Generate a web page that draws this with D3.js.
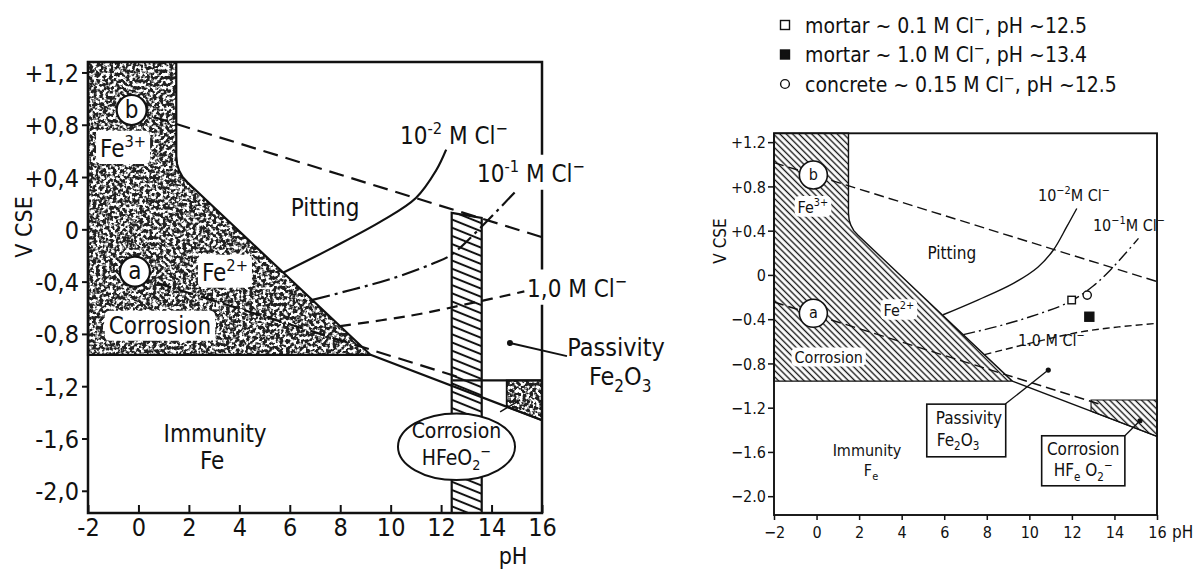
<!DOCTYPE html>
<html>
<head>
<meta charset="utf-8">
<script src="https://cdn.jsdelivr.net/npm/d3@7"></script>
<style>
  body { margin: 0; background: #fff; }
  svg { display: block; }
  text { font-family: "DejaVu Sans Condensed", "Liberation Sans Narrow", "DejaVu Sans", sans-serif; fill: #111; }
</style>
</head>
<body>
<svg id="chart" width="1194" height="571"></svg>
<script>
// ---- data ----
var phTicks = [-2, 0, 2, 4, 6, 8, 10, 12, 14, 16];
var phLabelsLeft = ["-2", "0", "2", "4", "6", "8", "10", "12", "14", "16"];
var phLabelsRight = ["\u22122", "0", "2", "4", "6", "8", "10", "12", "14", "16"];
var vTicks = [1.2, 0.8, 0.4, 0, -0.4, -0.8, -1.2, -1.6, -2.0];
var vLabelsLeft = ["+1,2", "+0,8", "+0,4", "0", "-0,4", "-0,8", "-1,2", "-1,6", "-2,0"];
var vLabelsRight = ["+1.2", "+0.8", "+0.4", "0", "\u22120.4", "\u22120.8", "\u22121.2", "\u22121.6", "\u22122.0"];

// Fe2+/Fe3+ corrosion field (pH, V)
var corrosionField = [[-2, 1.28], [1.5, 1.28], [1.5, 0.56], [1.53, 0.50], [1.61, 0.45], [1.75, 0.40], [1.94, 0.36], [9.2, -0.96], [-2, -0.96]];
// Fe / oxide boundary
var ironLine = [[9.2, -0.96], [16, -1.46]];
// water lines a and b
var lineA = [[-2, -0.245], [16, -1.33]];
var lineB = [[-2, 1.015], [16, -0.06]];
// HFeO2- corrosion fields
var hfeo2Left = [[14.6, -1.156], [16, -1.156], [16, -1.46], [14.6, -1.357]];
var hfeo2TopLeft = [[12.45, -1.156], [16, -1.156]];
var hfeo2Right = [[12.9, -1.13], [16, -1.13], [16, -1.46], [12.9, -1.232]];
// concrete pH band (left figure)
var concreteBand = [[12.42, 0.126], [13.61, 0.087], [13.61, -2.17], [12.42, -2.17]];

// pitting potential curves, left figure
var cl2Left = [[5.75, -0.33], [7.7, -0.14], [9.7, 0.07], [11.0, 0.24], [11.8, 0.45], [12.2, 0.61]];
var cl1Left = [[6.9, -0.54], [8.5, -0.46], [10.0, -0.38], [11.7, -0.26], [12.4, -0.195], [13.5, 0.0], [15.0, 0.30]];
var cl0Left = [[8.0, -0.74], [10.8, -0.66], [13.15, -0.567], [15.3, -0.475]];
// pitting potential curves, right figure
var cl2Right = [[5.95, -0.36], [7.6, -0.225], [9.25, -0.076], [10.4, 0.07], [11.13, 0.225], [11.76, 0.436], [12.23, 0.60]];
var cl1Right = [[6.9, -0.54], [8.5, -0.465], [10.04, -0.378], [11.9, -0.243], [13.0, -0.1], [13.8, 0.043], [15.13, 0.33]];
var cl0Right = [[7.9, -0.72], [10.2, -0.61], [12.39, -0.516], [14.2, -0.47], [16, -0.438]];

// measured specimens
var samplePH = [11.99, 12.72, 12.82];
var sampleV = [-0.227, -0.182, -0.378];
var sampleMarker = ["openSquare", "openCircle", "filledSquare"];
var legendMarker = ["openSquare", "filledSquare", "openCircle"];
var legendText = [
  [["mortar ~ 0.1 M  Cl"], ["\u2212", "sup"], [", pH ~12.5"]],
  [["mortar ~ 1.0 M  Cl"], ["\u2212", "sup"], [", pH ~13.4"]],
  [["concrete ~ 0.15 M Cl"], ["\u2212", "sup"], [", pH ~12.5"]]
];

var svg = d3.select("#chart");
var defs = svg.append("defs");

// stipple texture for the left figure
var f = defs.append("filter").attr("id", "stipple")
    .attr("x", 0).attr("y", 0).attr("width", 1).attr("height", 1)
    .attr("color-interpolation-filters", "sRGB");
f.append("feTurbulence").attr("type", "fractalNoise").attr("baseFrequency", 0.3)
    .attr("numOctaves", 2).attr("seed", 5).attr("result", "noise");
f.append("feColorMatrix").attr("in", "noise").attr("type", "matrix")
    .attr("values", "0 0 0 0 0.13  0 0 0 0 0.13  0 0 0 0 0.13  -6 0 0 0 3.6")
    .attr("result", "ink");
f.append("feComposite").attr("in", "ink").attr("in2", "SourceGraphic").attr("operator", "in");

// hatching for the right figure and the concrete band
function hatch(id, gap, angle, w) {
  var p = defs.append("pattern").attr("id", id)
      .attr("patternUnits", "userSpaceOnUse")
      .attr("width", 20).attr("height", gap)
      .attr("patternTransform", "rotate(" + angle + ")");
  p.append("line").attr("x1", 0).attr("x2", 20).attr("y1", gap / 2).attr("y2", gap / 2)
      .attr("stroke", "#111").attr("stroke-width", w);
}
hatch("hatchR", 4.5, 45, 1.35);
hatch("hatchBand", 7.6, 22, 2);

function along(line, ph) {
  var t = (ph - line[0][0]) / (line[1][0] - line[0][0]);
  return [ph, line[0][1] + t * (line[1][1] - line[0][1])];
}

function richText(g, x, y, parts, size, anchor) {
  var t = g.append("text").attr("x", x).attr("y", y + 0.36 * size)
      .attr("font-size", size).attr("text-anchor", anchor || "start");
  var shift = 0;
  parts.forEach(function(pt) {
    var target = pt[1] === "sup" ? -0.42 * size : pt[1] === "sub" ? 0.26 * size : 0;
    var s = t.append("tspan").text(pt[0]).attr("dy", target - shift);
    if (pt[1]) s.attr("font-size", size * 0.68);
    shift = target;
  });
  return t;
}

function whiteBehind(g, t, padX, padY) {
  var b = t.node().getBBox();
  g.insert("rect", function() { return t.node(); })
      .attr("x", b.x - padX).attr("y", b.y - padY)
      .attr("width", b.width + 2 * padX).attr("height", b.height + 2 * padY)
      .attr("rx", 5).attr("fill", "#fff");
}

function marker(g, type, cx, cy, s) {
  if (type === "openCircle") {
    g.append("circle").attr("cx", cx).attr("cy", cy).attr("r", s * 0.55)
        .attr("fill", "#fff").attr("stroke", "#111").attr("stroke-width", 1.4);
  } else {
    g.append("rect").attr("x", cx - s / 2).attr("y", cy - s / 2).attr("width", s).attr("height", s)
        .attr("fill", type === "filledSquare" ? "#111" : "#fff")
        .attr("stroke", "#111").attr("stroke-width", 1.4);
  }
}

function drawPanel(cfg) {
  var g = svg.append("g");
  var x = d3.scaleLinear().domain([-2, 16]).range([cfg.left, cfg.right]);
  var y = d3.scaleLinear().domain([-2.17, 1.28]).range([cfg.bottom, cfg.top]);
  var line = d3.line().x(function(d) { return x(d[0]); }).y(function(d) { return y(d[1]); });
  var curve = d3.line().x(function(d) { return x(d[0]); }).y(function(d) { return y(d[1]); })
      .curve(d3.curveCatmullRom);
  var sw = cfg.sw;

  // corrosion field
  if (cfg.stipple) {
    g.append("path").attr("d", line(corrosionField) + "Z").attr("fill", "#fff").attr("filter", "url(#stipple)");
    g.append("path").attr("d", line(cfg.hfeo2) + "Z").attr("fill", "#fff").attr("filter", "url(#stipple)");
  } else {
    g.append("path").attr("d", line(corrosionField) + "Z").attr("fill", "url(#hatchR)");
    g.append("path").attr("d", line(cfg.hfeo2) + "Z").attr("fill", "url(#hatchR)");
  }
  g.append("path").attr("d", line(corrosionField) + "Z").attr("fill", "none")
      .attr("stroke", "#111").attr("stroke-width", sw);
  g.append("path").attr("d", line(cfg.hfeo2) + "Z").attr("fill", "none")
      .attr("stroke", "#111").attr("stroke-width", sw * 0.8);

  if (cfg.band) {
    g.append("path").attr("d", line(concreteBand) + "Z").attr("fill", "url(#hatchBand)")
        .attr("stroke", "#111").attr("stroke-width", sw);
    g.append("path").attr("d", line(hfeo2TopLeft)).attr("stroke", "#111").attr("stroke-width", sw).attr("fill", "none");
  }

  // water lines
  g.append("path").attr("d", line([along(lineA, cfg.aFrom), along(lineA, cfg.aTo)]))
      .attr("fill", "none").attr("stroke", "#111").attr("stroke-width", sw).attr("stroke-dasharray", cfg.dashAB);
  g.append("path").attr("d", line([along(lineB, cfg.bFrom), along(lineB, 16)]))
      .attr("fill", "none").attr("stroke", "#111").attr("stroke-width", sw).attr("stroke-dasharray", cfg.dashAB);

  // Fe / oxide line
  g.append("path").attr("d", line(ironLine)).attr("fill", "none").attr("stroke", "#111").attr("stroke-width", sw);

  // chloride curves
  g.append("path").attr("d", curve(cfg.cl2)).attr("fill", "none").attr("stroke", "#111").attr("stroke-width", sw);
  g.append("path").attr("d", curve(cfg.cl1)).attr("fill", "none").attr("stroke", "#111").attr("stroke-width", sw)
      .attr("stroke-dasharray", cfg.dashDot);
  g.append("path").attr("d", curve(cfg.cl0)).attr("fill", "none").attr("stroke", "#111").attr("stroke-width", sw)
      .attr("stroke-dasharray", cfg.dash);

  // frame
  g.append("rect").attr("x", cfg.left).attr("y", cfg.top)
      .attr("width", cfg.right - cfg.left).attr("height", cfg.bottom - cfg.top)
      .attr("fill", "none").attr("stroke", "#111").attr("stroke-width", cfg.frameW);

  // axes
  var gx = g.append("g").attr("transform", "translate(0," + cfg.bottom + ")")
      .call(d3.axisBottom(x).tickValues(phTicks).tickSize(cfg.xTick)
        .tickFormat(function(d, i) { return cfg.phLabels[i]; }));
  gx.select(".domain").remove();
  gx.selectAll("line").attr("stroke", "#111").attr("stroke-width", cfg.frameW * 0.8);
  gx.selectAll("text").attr("font-size", cfg.tickFs).attr("dy", "0").attr("y", cfg.xLabelY);

  var gy = g.append("g").attr("transform", "translate(" + cfg.left + ",0)")
      .call(d3.axisLeft(y).tickValues(vTicks).tickSize(6)
        .tickFormat(function(d, i) { return cfg.vLabels[i]; }));
  gy.select(".domain").remove();
  gy.selectAll("line").attr("stroke", "#111").attr("stroke-width", cfg.frameW * 0.8);
  gy.selectAll("text").attr("font-size", cfg.tickFs).attr("x", cfg.yLabelX).attr("dy", "0.36em");

  g.append("text").attr("transform", "translate(" + cfg.vcse[0] + "," + cfg.vcse[1] + ") rotate(-90)")
      .attr("text-anchor", "middle").attr("dy", "0.36em").attr("font-size", cfg.titleFs).text("V CSE");
  g.append("text").attr("x", cfg.phPos[0]).attr("y", cfg.phPos[1])
      .attr("text-anchor", cfg.phAnchor).attr("font-size", cfg.titleFs).text("pH");

  return {g: g, x: x, y: y, line: line};
}

// ---------- left figure ----------
var L = drawPanel({
  left: 88, right: 542, top: 62, bottom: 513, sw: 2.2, frameW: 2.5,
  stipple: true, band: true, hfeo2: hfeo2Left,
  aFrom: -0.14, aTo: 12.9, bFrom: -0.27,
  dashAB: "15,8", dashDot: "18,5,3,5", dash: "11,7",
  cl2: cl2Left, cl1: cl1Left, cl0: cl0Left,
  xTick: -8, tickFs: 25, xLabelY: 23, yLabelX: -9,
  phLabels: phLabelsLeft, vLabels: vLabelsLeft,
  vcse: [24, 227], titleFs: 23, phPos: [513, 564], phAnchor: "middle"
});
var fsL = 24;
[
  {p: [-0.61, 0.62], t: [["Fe"], ["3+", "sup"]]},
  {p: [3.43, -0.327], t: [["Fe"], ["2+", "sup"]]},
  {p: [0.85, -0.732], t: [["Corrosion"]]}
].forEach(function(d) {
  var t = richText(L.g, L.x(d.p[0]), L.y(d.p[1]), d.t, fsL, "middle");
  whiteBehind(L.g, t, 4, 1);
});
richText(L.g, L.x(7.4), L.y(0.17), [["Pitting"]], fsL, "middle");
richText(L.g, L.x(3.04), L.y(-1.558), [["Immunity"]], fsL, "middle");
richText(L.g, L.x(2.92), L.y(-1.765), [["Fe"]], fsL, "middle");
[{p: [-0.27, 0.913], t: "b"}, {p: [-0.14, -0.324], t: "a"}].forEach(function(d) {
  L.g.append("circle").attr("cx", L.x(d.p[0])).attr("cy", L.y(d.p[1])).attr("r", 15)
      .attr("fill", "#fff").attr("stroke", "#111").attr("stroke-width", 2.2);
  richText(L.g, L.x(d.p[0]), L.y(d.p[1]) - 1, [[d.t]], 24, "middle");
});
richText(L.g, L.x(10.37), L.y(0.72), [["10"], ["-2", "sup"], [" M Cl"], ["\u2212", "sup"]], fsL, "start");
var t1 = richText(L.g, L.x(13.42), L.y(0.43), [["10"], ["-1", "sup"], [" M Cl"], ["\u2212", "sup"]], fsL, "start");
whiteBehind(L.g, t1, 2, 2);
var t0 = richText(L.g, L.x(15.41), L.y(-0.449), [["1,0  M Cl"], ["\u2212", "sup"]], fsL, "start");
whiteBehind(L.g, t0, 2, 2);
// Passivity pointer
L.g.append("path").attr("d", L.line([[14.73, -0.87], [16.99, -0.97]]))
    .attr("stroke", "#111").attr("stroke-width", 2).attr("fill", "none");
L.g.append("circle").attr("cx", L.x(14.73)).attr("cy", L.y(-0.87)).attr("r", 3).attr("fill", "#111");
richText(L.g, L.x(18.94), L.y(-0.9), [["Passivity"]], 25, "middle");
richText(L.g, L.x(19.1), L.y(-1.125), [["Fe"], ["2", "sub"], ["O"], ["3", "sub"]], 25, "middle");
// HFeO2- ellipse
L.g.append("path").attr("d", L.line([[14.34, -1.396], [15.13, -1.306]]))
    .attr("stroke", "#111").attr("stroke-width", 1.5).attr("fill", "none");
L.g.append("ellipse").attr("cx", L.x(12.61)).attr("cy", L.y(-1.663))
    .attr("rx", L.x(12.61 + 2.32) - L.x(12.61)).attr("ry", L.y(-1.663 - 0.255) - L.y(-1.663))
    .attr("fill", "#fff").attr("stroke", "#111").attr("stroke-width", 2);
richText(L.g, L.x(12.61), L.y(-1.54), [["Corrosion"]], 21, "middle");
richText(L.g, L.x(12.61), L.y(-1.745), [["HFeO"], ["2", "sub"], ["\u2212", "sup"]], 21, "middle");

// ---------- right figure ----------
var R = drawPanel({
  left: 774, right: 1157, top: 133.3, bottom: 515, sw: 1.4, frameW: 1.9,
  stipple: false, band: false, hfeo2: hfeo2Right,
  aFrom: -2, aTo: 13.3, bFrom: -2,
  dashAB: "10,5", dashDot: "12,4,2,4", dash: "7,4",
  cl2: cl2Right, cl1: cl1Right, cl0: cl0Right,
  xTick: 5, tickFs: 16, xLabelY: 23, yLabelX: -8,
  phLabels: phLabelsRight, vLabels: vLabelsRight,
  vcse: [720, 241], titleFs: 17, phPos: [1172, 538], phAnchor: "start"
});
var fsR = 16;
[
  {p: [-0.17, 0.614], t: [["Fe"], ["3+", "sup"]]},
  {p: [3.87, -0.318], t: [["Fe"], ["2+", "sup"]]},
  {p: [0.57, -0.74], t: [["Corrosion"]]}
].forEach(function(d) {
  var t = richText(R.g, R.x(d.p[0]), R.y(d.p[1]), d.t, fsR, "middle");
  whiteBehind(R.g, t, 3, 0);
});
richText(R.g, R.x(6.36), R.y(0.198), [["Pitting"]], 17, "middle");
richText(R.g, R.x(2.37), R.y(-1.584), [["Immunity"]], fsR, "middle");
richText(R.g, R.x(2.56), R.y(-1.765), [["F"], ["e", "sub"]], fsR, "middle");
[{p: [-0.15, 0.903], t: "b"}, {p: [-0.15, -0.347], t: "a"}].forEach(function(d) {
  R.g.append("circle").attr("cx", R.x(d.p[0])).attr("cy", R.y(d.p[1])).attr("r", 14)
      .attr("fill", "#fff").attr("stroke", "#111").attr("stroke-width", 1.6);
  richText(R.g, R.x(d.p[0]), R.y(d.p[1]) - 1, [[d.t]], 16, "middle");
});
richText(R.g, R.x(10.41), R.y(0.722), [["10"], ["\u22122", "sup"], ["M Cl"], ["\u2212", "sup"]], fsR, "start");
richText(R.g, R.x(12.99), R.y(0.451), [["10"], ["\u22121", "sup"], ["M Cl"], ["\u2212", "sup"]], fsR, "start");
richText(R.g, R.x(9.47), R.y(-0.589), [["1.0 M Cl"], ["\u2212", "sup"]], fsR, "start");

// measured specimens
samplePH.forEach(function(ph, i) {
  marker(R.g, sampleMarker[i], R.x(ph), R.y(sampleV[i]), sampleMarker[i] === "filledSquare" ? 9 : 7.5);
});

// Passivity box
R.g.append("path").attr("d", R.line([[10.89, -0.86], [8.87, -1.167]]))
    .attr("stroke", "#111").attr("stroke-width", 1.3).attr("fill", "none");
R.g.append("circle").attr("cx", R.x(10.89)).attr("cy", R.y(-0.86)).attr("r", 2.6).attr("fill", "#111");
R.g.append("rect").attr("x", R.x(5.18)).attr("y", R.y(-1.168))
    .attr("width", R.x(8.89) - R.x(5.18)).attr("height", R.y(-1.644) - R.y(-1.168))
    .attr("fill", "#fff").attr("stroke", "#111").attr("stroke-width", 1.6);
richText(R.g, R.x(5.6), R.y(-1.294), [["Passivity"]], 17, "start");
richText(R.g, R.x(5.65), R.y(-1.49), [["Fe"], ["2", "sub"], ["O"], ["3", "sub"]], 17, "start");

// HFeO2- box
R.g.append("path").attr("d", R.line([[15.2, -1.318], [14.49, -1.454]]))
    .attr("stroke", "#111").attr("stroke-width", 1.3).attr("fill", "none");
R.g.append("circle").attr("cx", R.x(15.2)).attr("cy", R.y(-1.318)).attr("r", 2.6).attr("fill", "#111");
R.g.append("rect").attr("x", R.x(10.58)).attr("y", R.y(-1.454))
    .attr("width", R.x(14.49) - R.x(10.58)).attr("height", R.y(-1.906) - R.y(-1.454))
    .attr("fill", "#fff").attr("stroke", "#111").attr("stroke-width", 1.6);
richText(R.g, R.x(12.53), R.y(-1.568), [["Corrosion"]], 17, "middle");
richText(R.g, R.x(12.53), R.y(-1.764), [["HF"], ["e", "sub"], [" O"], ["2", "sub"], ["\u2212", "sup"]], 17, "middle");

// legend
var legendY = d3.scalePoint().domain(d3.range(legendText.length)).range([25, 84]);
legendText.forEach(function(parts, i) {
  marker(svg, legendMarker[i], 785, legendY(i), legendMarker[i] === "openCircle" ? 8 : 9);
  richText(svg, 805, legendY(i), parts, 21, "start");
});
</script>
</body>
</html>
